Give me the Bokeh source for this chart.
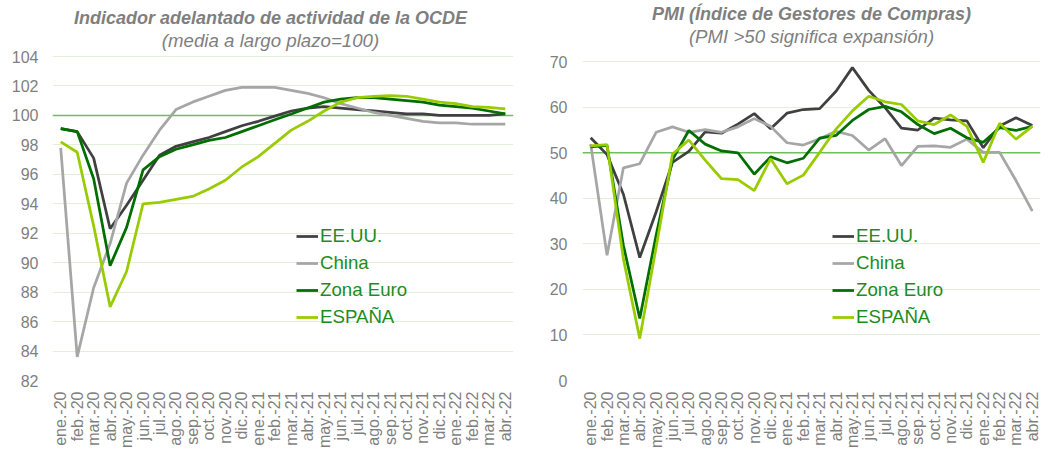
import math
from bokeh.plotting import figure
from bokeh.models import FactorRange, Range1d, FixedTicker, Span, Label, Legend, LegendItem
from bokeh.layouts import row
from bokeh.embed import file_html
from bokeh.resources import INLINE

months = ["ene.-20", "feb.-20", "mar.-20", "abr.-20", "may.-20", "jun.-20", "jul.-20",
          "ago.-20", "sep.-20", "oct.-20", "nov.-20", "dic.-20",
          "ene.-21", "feb.-21", "mar.-21", "abr.-21", "may.-21", "jun.-21", "jul.-21",
          "ago.-21", "sep.-21", "oct.-21", "nov.-21", "dic.-21",
          "ene.-22", "feb.-22", "mar.-22", "abr.-22"]

series_names = ["EE.UU.", "China", "Zona Euro", "ESPAÑA"]

# OCDE composite leading indicator
usa_cli = [99.1, 98.9, 97.1, 92.3, 93.9, 95.6, 97.3, 97.9, 98.2, 98.5, 98.9, 99.3,
           99.6, 99.95, 100.3, 100.5, 100.6, 100.5, 100.4, 100.3, 100.2, 100.1, 100.1, 100.0,
           100.0, 100.0, 100.0, 100.1]
china_cli = [97.8, 83.6, 88.3, 91.3, 95.4, 97.3, 99.0, 100.4, 100.9, 101.3, 101.7, 101.9,
             101.9, 101.9, 101.7, 101.5, 101.2, 100.8, 100.5, 100.2, 100.0, 99.8, 99.6, 99.5,
             99.5, 99.4, 99.4, 99.4]
euro_cli = [99.1, 98.9, 95.7, 89.8, 92.4, 96.3, 97.2, 97.7, 98.0, 98.3, 98.5, 98.9,
            99.3, 99.7, 100.1, 100.5, 100.9, 101.1, 101.2, 101.2, 101.1, 101.0, 100.9, 100.7,
            100.6, 100.5, 100.3, 100.1]
spain_cli = [98.2, 97.5, 92.5, 87.0, 89.4, 94.0, 94.1, 94.3, 94.5, 95.0, 95.6, 96.5,
             97.2, 98.1, 99.0, 99.6, 100.3, 100.9, 101.2, 101.3, 101.35, 101.3, 101.1, 100.9,
             100.8, 100.6, 100.55, 100.45]

# PMI
usa_pmi = [53.3, 49.6, 40.9, 27.0, 37.0, 47.9, 50.3, 54.6, 54.3, 56.3, 58.6, 55.3,
           58.7, 59.5, 59.7, 63.5, 68.7, 63.7, 59.9, 55.4, 55.0, 57.6, 57.2, 57.0,
           51.1, 55.9, 57.7, 56.0]
china_pmi = [51.9, 27.5, 46.7, 47.6, 54.5, 55.7, 54.5, 55.1, 54.5, 55.7, 57.5, 55.8,
             52.2, 51.7, 53.1, 54.7, 53.8, 50.6, 53.1, 47.2, 51.4, 51.5, 51.2, 53.0,
             50.1, 50.1, 43.9, 37.2]
euro_pmi = [51.3, 51.6, 29.7, 13.6, 31.9, 48.5, 54.9, 51.9, 50.4, 50.0, 45.3, 49.1,
            47.8, 48.8, 53.2, 53.8, 57.1, 59.5, 60.2, 59.0, 56.2, 54.2, 55.4, 53.3,
            52.3, 55.5, 54.9, 55.8]
spain_pmi = [51.5, 51.8, 26.7, 9.2, 29.2, 49.7, 52.8, 48.4, 44.3, 44.1, 41.7, 48.7,
             43.2, 45.1, 50.1, 55.2, 59.2, 62.4, 61.2, 60.6, 57.0, 56.2, 58.3, 55.8,
             47.9, 56.5, 53.0, 55.8]

cli_ticks = [82, 84, 86, 88, 90, 92, 94, 96, 98, 100, 102, 104]
pmi_ticks = [0, 10, 20, 30, 40, 50, 60, 70]

colors = ["#404040", "#A6A6A6", "#006E00", "#99CC00"]
FONT = "Liberation Sans"
GRAY = "#7F7F7F"
H = 455


def make_chart(title, subtitle, data, ticks, ref, width, bl, br, top_px, bb,
               title_x, title_y, sub_y, leg_x, ystand):
    # frame spans from the top of the canvas; the plotting area proper begins at top_px
    frame_h = H - bb
    span = ticks[-1] - ticks[0]
    y_top = ticks[-1] + top_px * span / (frame_h - top_px)
    p = figure(x_range=FactorRange(*months), y_range=Range1d(ticks[0], y_top),
               width=width, height=H, output_backend="svg", toolbar_location=None,
               min_border_left=bl, min_border_right=br, min_border_top=0, min_border_bottom=bb)
    p.outline_line_color = None
    p.xgrid.grid_line_color = None
    p.ygrid.grid_line_color = "#E2EFDA"
    p.ygrid.grid_line_width = 1
    p.yaxis.ticker = FixedTicker(ticks=ticks)
    for ax in (p.xaxis, p.yaxis):
        ax.axis_line_color = None
        ax.major_tick_line_color = None
        ax.minor_tick_line_color = None
        ax.major_tick_out = 0
        ax.major_tick_in = 0
        ax.minor_tick_out = 0
        ax.minor_tick_in = 0
        ax.major_label_text_color = GRAY
        ax.major_label_text_font = FONT
        ax.major_label_text_font_size = "16px"
    p.xaxis.major_label_orientation = math.pi / 2
    p.xaxis.major_label_standoff = 11
    p.yaxis.major_label_standoff = ystand

    p.add_layout(Span(location=ref, dimension="width", line_color="#6CBF5C",
                      line_width=1.5, level="underlay"))

    items = []
    for name, vals, col in zip(series_names, data, colors):
        r = p.line(x=months, y=vals, line_color=col, line_width=2.75)
        items.append(LegendItem(label=name, renderers=[r]))
    legend = Legend(items=items, location=(leg_x, 52), background_fill_alpha=0,
                    border_line_alpha=0, label_text_font=FONT, label_text_font_size="18.67px",
                    label_text_color="#1E8C1E", glyph_width=22, glyph_height=22,
                    label_height=22, spacing=5, padding=0, margin=0, label_standoff=2)
    p.add_layout(legend)

    p.add_layout(Label(x=title_x, y=frame_h - title_y, x_units="screen", y_units="screen",
                       text=title, text_align="center", text_baseline="middle",
                       text_font=FONT, text_font_size="18px", text_font_style="bold italic",
                       text_color=GRAY))
    p.add_layout(Label(x=title_x, y=frame_h - sub_y, x_units="screen", y_units="screen",
                       text=subtitle, text_align="center", text_baseline="middle",
                       text_font=FONT, text_font_size="18.67px", text_font_style="italic",
                       text_color=GRAY))
    return p


p1 = make_chart("Indicador adelantado de actividad de la OCDE", "(media a largo plazo=100)",
                [usa_cli, china_cli, euro_cli, spain_cli], cli_ticks, 100,
                520, 52, 7, 56, 75, 218, 17, 40, 244, 14)
p2 = make_chart("PMI (Índice de Gestores de Compras)", "(PMI >50 significa expansión)",
                [usa_pmi, china_pmi, euro_pmi, spain_pmi], pmi_ticks, 50,
                525, 62, 5, 62, 70, 229, 18, 41, 250, 15)

layout = row(p1, p2, spacing=0)
open("out.html", "w").write(file_html(layout, INLINE))
